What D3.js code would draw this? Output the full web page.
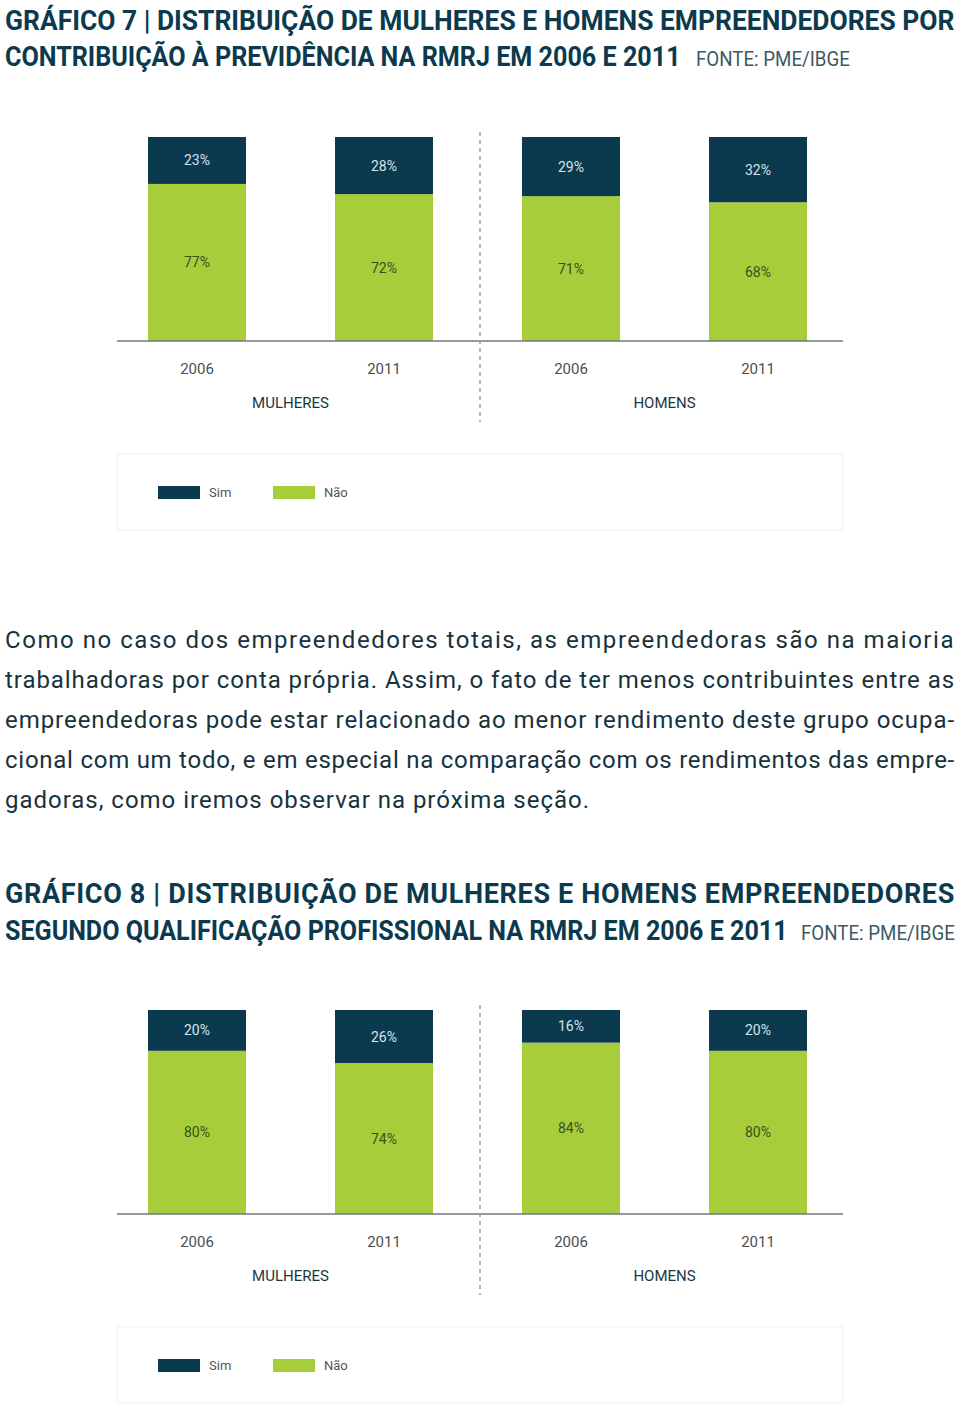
<!DOCTYPE html>
<html><head><meta charset="utf-8">
<script src="https://cdn.jsdelivr.net/npm/d3@7"></script>
<style>
html,body{margin:0;padding:0;background:#fff;}
svg{display:block;}
</style></head>
<body>
<script>
// ---- data ----
const groups = ["MULHERES", "HOMENS"];
const years = ["2006", "2011"];
const barKeys = ["M2006", "M2011", "H2006", "H2011"];
const barYears = ["2006", "2011", "2006", "2011"];
const seriesNames = ["Sim", "Não"];
// Gráfico 7: contribuição à previdência
const sim7 = [23, 28, 29, 32];
const nao7 = [77, 72, 71, 68];
// Gráfico 8: qualificação profissional
const sim8 = [20, 26, 16, 20];
const nao8 = [80, 74, 84, 80];

const title7 = ["GRÁFICO 7 | DISTRIBUIÇÃO DE MULHERES E HOMENS EMPREENDEDORES POR",
                "CONTRIBUIÇÃO À PREVIDÊNCIA NA RMRJ EM 2006 E 2011"];
const title8 = ["GRÁFICO 8 | DISTRIBUIÇÃO DE MULHERES E HOMENS EMPREENDEDORES",
                "SEGUNDO QUALIFICAÇÃO PROFISSIONAL NA RMRJ EM 2006 E 2011"];
const source = "FONTE: PME/IBGE";
const paragraph = [
  "Como no caso dos empreendedores totais, as empreendedoras são na maioria",
  "trabalhadoras por conta própria. Assim, o fato de ter menos contribuintes entre as",
  "empreendedoras pode estar relacionado ao menor rendimento deste grupo ocupa-",
  "cional com um todo, e em especial na comparação com os rendimentos das empre-",
  "gadoras, como iremos observar na próxima seção."
];

// ---- style ----
const DARK = "#0b3a4e", GREEN = "#a8cd3a";
const TITLE_FONT = "'Roboto','Liberation Sans',sans-serif";
const BODY_FONT = "'Roboto','Lato','Noto Sans',sans-serif";

const W = 960, H = 1406;
const svg = d3.select("body").append("svg").attr("width", W).attr("height", H);

// fit a text to a target width: condense horizontally if too wide, else letter-spacing
function fitText(x, y, str, family, weight, size, fill, target) {
  const t = svg.append("text").attr("x", 0).attr("y", 0)
    .attr("font-family", family).attr("font-weight", weight)
    .attr("font-size", size).attr("fill", fill).text(str);
  const L = t.node().getComputedTextLength();
  if (L > target) {
    t.attr("transform", `translate(${x},${y}) scale(${target / L},1)`);
  } else {
    t.attr("transform", `translate(${x},${y})`);
    t.style("letter-spacing", ((target - L) / str.length) + "px");
  }
  return t;
}

function titleBlock(lines, y1, y2, w1, w2, srcX, srcW) {
  fitText(5, y1, lines[0], TITLE_FONT, "bold", 27, DARK, w1);
  fitText(5, y2, lines[1], TITLE_FONT, "bold", 27, DARK, w2);
  fitText(srcX, y2, source, TITLE_FONT, "normal", 20, "#3b5866", srcW);
}

function chart(sim, nao, top, base) {
  const g = svg.append("g");
  const x = d3.scaleBand().domain(barKeys).range([103.5, 851.5])
    .paddingInner(89 / 187).paddingOuter(89 / 374);
  const y = d3.scaleLinear().domain([0, 100]).range([base, top]);
  const rows = barKeys.map((k, i) => ({key: k, year: barYears[i], Sim: sim[i], "Não": nao[i]}));
  const stack = d3.stack().keys(["Não", "Sim"])(rows);
  const color = {"Sim": DARK, "Não": GREEN};
  const labelColor = {"Sim": "#d3e4ec", "Não": "#35521d"};

  stack.forEach(s => {
    g.selectAll(null).data(s).join("rect")
      .attr("x", d => x(d.data.key)).attr("width", x.bandwidth())
      .attr("y", d => y(d[1])).attr("height", d => y(d[0]) - y(d[1]))
      .attr("fill", color[s.key]);
    g.selectAll(null).data(s).join("text")
      .attr("x", d => x(d.data.key) + x.bandwidth() / 2)
      .attr("y", d => (y(d[0]) + y(d[1])) / 2 + 5)
      .attr("text-anchor", "middle").attr("font-family", BODY_FONT).attr("font-size", 14)
      .attr("fill", labelColor[s.key])
      .text(d => d.data[s.key] + "%");
  });

  // baseline
  g.append("line").attr("x1", 117).attr("x2", 843).attr("y1", y(0)).attr("y2", y(0))
    .attr("stroke", "#6f777b").attr("stroke-width", 1.5);
  // divider
  g.append("line").attr("x1", 480).attr("x2", 480).attr("y1", top - 5).attr("y2", base + 81)
    .attr("stroke", "#9a9a9a").attr("stroke-width", 1.5).attr("stroke-dasharray", "4,4");

  // year labels
  g.selectAll(null).data(rows).join("text")
    .attr("x", d => x(d.key) + x.bandwidth() / 2).attr("y", base + 33)
    .attr("text-anchor", "middle").attr("font-family", BODY_FONT).attr("font-size", 15)
    .attr("fill", "#4a4f52").text(d => d.year);
  // group labels
  const gx = [ (x("M2006") + x("M2011") + x.bandwidth()) / 2,
               (x("H2006") + x("H2011") + x.bandwidth()) / 2 ];
  g.selectAll(null).data(groups).join("text")
    .attr("x", (d, i) => gx[i]).attr("y", base + 67)
    .attr("text-anchor", "middle").attr("font-family", BODY_FONT).attr("font-size", 15)
    .attr("fill", "#1b3744").text(d => d);

  // legend
  const ly = base + 113;
  g.append("rect").attr("x", 117).attr("y", ly).attr("width", 726).attr("height", 76)
    .attr("fill", "#fff").attr("stroke", "#f1f1f1");
  const lx = [158, 273];
  seriesNames.forEach((n, i) => {
    g.append("rect").attr("x", lx[i]).attr("y", ly + 32).attr("width", 42).attr("height", 13)
      .attr("fill", color[n]);
    g.append("text").attr("x", lx[i] + 51).attr("y", ly + 43)
      .attr("font-family", BODY_FONT).attr("font-size", 13).attr("fill", "#555")
      .text(n);
  });
}

// Gráfico 7
titleBlock(title7, 30, 66, 950, 676, 696, 154);
chart(sim7, nao7, 137, 341);

// paragraph
const baselines = [648, 688, 728, 768, 808];
const widths = [950, 950, 950, 950, 585];
paragraph.forEach((t, i) => {
  fitText(5, baselines[i], t, BODY_FONT, "normal", 24, "#17323d", widths[i]);
});

// Gráfico 8
titleBlock(title8, 903, 940, 950, 783, 801, 154);
chart(sim8, nao8, 1010, 1214);
</script>
</body></html>
